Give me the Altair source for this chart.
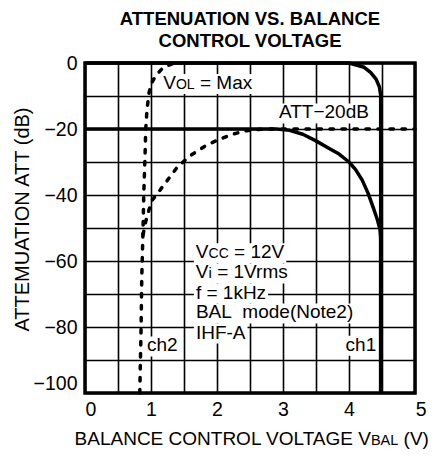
import altair as alt
import pandas as pd

FONT = "Liberation Sans"
BIG, SMALL = 19, 14
W, H = 330, 330
X_DOMAIN = [0, 5]
Y_DOMAIN = [-100, 0]
PX_PER_V = W / (X_DOMAIN[1] - X_DOMAIN[0])
PX_PER_DB = H / (Y_DOMAIN[1] - Y_DOMAIN[0])

# ---------------- data ----------------
# ch1, solid
ch1_max_v = [0.0, 4.0, 4.23, 4.33, 4.41, 4.46, 4.48, 4.48]
ch1_max_att = [0.0, 0.0, -1.3, -2.9, -4.9, -7.2, -9.7, -100.0]
ch1_20_v = [0.0, 2.9, 3.1, 3.3, 3.5, 3.7, 3.85, 4.0, 4.1, 4.2, 4.29, 4.37, 4.43, 4.47, 4.48, 4.48]
ch1_20_att = [-20.0, -20.0, -20.4, -21.6, -23.6, -25.9, -27.6, -30.0, -32.3, -35.5, -39.5, -44.0,
              -47.5, -50.5, -53.0, -100.0]
# ch2, dotted
ch2_max_v = [0.83, 0.85, 0.86, 0.88, 0.89, 0.91, 0.92, 0.94, 0.97, 1.01, 1.08, 1.18, 1.30, 1.40]
ch2_max_att = [-100.0, -80.0, -65.0, -50.0, -40.0, -28.0, -20.0, -14.0, -9.0, -6.0, -3.6, -1.5, -0.4, 0.0]
ch2_20_v = [0.88, 0.92, 0.97, 1.02, 1.10, 1.25, 1.40, 1.60, 1.85, 2.05, 2.25, 2.45, 2.70, 5.0]
ch2_20_att = [-52.0, -48.0, -44.5, -41.5, -39.5, -35.5, -31.5, -28.0, -24.8, -23.0, -21.5, -20.5, -20.0, -20.0]

x_grid = [0, 0.5, 1, 1.5, 2, 2.5, 3, 3.5, 4, 4.5, 5]
y_grid = [-100, -90, -80, -70, -60, -50, -40, -30, -20, -10, 0]

title_lines = ["ATTENUATION VS. BALANCE", "CONTROL VOLTAGE"]
y_title = "ATTEMUATION ATT (dB)"

# ---------------- curves table ----------------
rows = []
for name, dotted, xs_, ys_ in [
    ("ch1 Vol=Max", False, ch1_max_v, ch1_max_att),
    ("ch1 ATT-20dB", False, ch1_20_v, ch1_20_att),
    ("ch2 Vol=Max", True, ch2_max_v, ch2_max_att),
    ("ch2 ATT-20dB", True, ch2_20_v, ch2_20_att),
]:
    for i, (a, b) in enumerate(zip(xs_, ys_)):
        rows.append({"curve": name, "dotted": dotted, "i": i, "v": a, "att": b})
curves = pd.DataFrame(rows)

# ---------------- rich-text annotations ----------------
ADV = {' ': .278, 'A': .667, 'B': .667, 'C': .722, 'D': .722, 'E': .667,
       'F': .611, 'G': .778, 'H': .722, 'I': .278, 'L': .556, 'M': .833, 'N': .722,
       'O': .778, 'R': .722, 'S': .667, 'T': .611, 'U': .722, 'V': .667, 'a': .556,
       'c': .5, 'd': .556, 'e': .556, 'f': .278, 'h': .556, 'i': .222, 'k': .5,
       'm': .833, 'o': .556, 'r': .333, 's': .5, 't': .278, 'x': .5, 'z': .5,
       '=': .584, '−': .584, '-': .333, '(': .333, ')': .333, '.': .278}


def width(s, size):
    return sum(ADV.get(c, .556) for c in s) * size


SP = 0.278 * BIG  # a word gap placed as position, not as a leading space

# (anchor V, baseline dB, alignment, parts[(text, size, gap before px)], white background)
annotations = [
    (1.86, -7.9, "center", [("V", BIG, 0), ("OL", SMALL, 0), ("= Max", BIG, SP)], True),
    (3.62, -16.8, "center", [("ATT−20dB", BIG, 0)], True),
    (1.68, -59.2, "left", [("V", BIG, 0), ("CC", SMALL, 0), ("= 12V", BIG, SP)], True),
    (1.68, -65.3, "left", [("V", BIG, 0), ("i", 15, 0), ("= 1Vrms", BIG, SP)], True),
    (1.68, -71.4, "left", [("f = 1kHz", BIG, 0)], True),
    (1.68, -77.4, "left", [("BAL\u00a0\u00a0mode(Note2)", BIG, 0)], True),
    (1.68, -83.5, "left", [("IHF-A", BIG, 0)], True),
    (1.17, -87.4, "center", [("ch2", BIG, 0)], True),
    (4.18, -87.2, "center", [("ch1", BIG, 0)], True),
    (2.5, -115.9, "center",
     [("BALANCE CONTROL VOLTAGE V", 19, 0), ("BAL", 14.5, 0), ("(V)", 19, 0.278 * 19)], False),
]

text_rows, bg_rows = [], []
for ax, ay, align, parts, bg in annotations:
    total = sum(width(t, s) + g for t, s, g in parts)
    left_px = -total / 2 if align == "center" else 0.0
    if len(parts) == 1:
        t, s, _ = parts[0]
        text_rows.append({"x": ax, "y": ay, "t": t, "fs": s, "al": align, "w": "normal"})
    else:
        # first part right-aligned at the joint, the rest left-aligned after it
        t0, s0, _ = parts[0]
        cur = left_px + width(t0, s0)
        text_rows.append({"x": ax + cur / PX_PER_V, "y": ay, "t": t0, "fs": s0,
                          "al": "right", "w": "normal"})
        for t, s, g in parts[1:]:
            cur += g
            text_rows.append({"x": ax + cur / PX_PER_V, "y": ay, "t": t, "fs": s,
                              "al": "left", "w": "normal"})
            cur += width(t, s)
    if bg:
        bg_rows.append({
            "x": ax + (left_px - 2) / PX_PER_V,
            "x2": ax + (left_px + total + 2) / PX_PER_V,
            "y": ay - 5 / PX_PER_DB,
            "y2": ay + 15 / PX_PER_DB,
        })

# chart title, two bold lines centred over the plot
for line, base_db in zip(title_lines, [11.5, 4.95]):
    text_rows.append({"x": 2.5, "y": base_db, "t": line, "fs": 18.5, "al": "center", "w": "bold"})

texts = pd.DataFrame(text_rows)
bgs = pd.DataFrame(bg_rows)

# ---------------- scales & axes ----------------
xs = alt.Scale(domain=X_DOMAIN, nice=False, zero=False)
ys = alt.Scale(domain=Y_DOMAIN, nice=False, zero=False)

x_axis = alt.Axis(
    values=x_grid, title=None, grid=True, gridColor="black", gridWidth=1.6,
    gridOpacity=1, ticks=False, domain=False, labelOverlap=False,
    labelExpr="datum.value % 1 == 0 ? format(datum.value, 'd') : ''",
    labelFont=FONT, labelFontSize=19.5, labelColor="black", labelPadding=7,
    labelAngle=0,
    labelOffset={"condition": {"test": "datum.value == 5", "value": 11}, "value": 0},
)
y_axis = alt.Axis(
    values=y_grid, title=y_title, grid=True, gridColor="black", gridWidth=1.6,
    gridOpacity=1, ticks=False, domain=False, labelOverlap=False,
    labelExpr="datum.value % 20 == 0 ? (datum.value < 0 ? '−' + format(-datum.value, 'd') : '0') : ''",
    labelFont=FONT, labelFontSize=19.5, labelColor="black", labelPadding=8,
    labelBaseline={"condition": {"test": "datum.value == -100", "value": "bottom"}, "value": "middle"},
    titleFont=FONT, titleFontSize=20, titleFontWeight="normal", titleColor="black",
    titleX=-63, titleY=156, titleAngle=270, titleAlign="center", titleBaseline="middle",
)

base_curves = alt.Chart(curves).encode(
    x=alt.X("v:Q", scale=xs, axis=x_axis),
    y=alt.Y("att:Q", scale=ys, axis=y_axis),
    detail="curve:N",
    order=alt.Order("i:Q"),
)
solid = base_curves.transform_filter("!datum.dotted").mark_line(
    color="black", strokeWidth=3.5, strokeCap="butt", strokeJoin="round")
dotted = base_curves.transform_filter("datum.dotted").mark_line(
    color="black", strokeWidth=3.5, strokeCap="round", strokeDash=[3.5, 8.5])

rects = alt.Chart(bgs).mark_rect(color="white").encode(
    x=alt.X("x:Q", scale=xs, axis=x_axis), x2="x2:Q",
    y=alt.Y("y:Q", scale=ys, axis=y_axis), y2="y2:Q",
)


def text_layer(al, weight):
    return alt.Chart(texts).transform_filter(
        f"datum.al == '{al}' && datum.w == '{weight}'"
    ).mark_text(
        align=al, baseline="alphabetic", font=FONT, color="black", fontWeight=weight
    ).encode(
        x=alt.X("x:Q", scale=xs, axis=x_axis),
        y=alt.Y("y:Q", scale=ys, axis=y_axis),
        text="t:N",
        size=alt.Size("fs:Q", scale=None),
    )


chart = alt.layer(
    rects, solid, dotted,
    text_layer("left", "normal"), text_layer("right", "normal"),
    text_layer("center", "normal"), text_layer("center", "bold"),
).properties(
    width=W, height=H,
    padding={"left": 77, "top": 55, "right": 14, "bottom": 56},
    autosize=alt.AutoSizeParams(type="none"),
).configure_view(stroke="black", strokeWidth=3.5)

chart.save("out.html", embed_options={"renderer": "svg", "actions": False})
